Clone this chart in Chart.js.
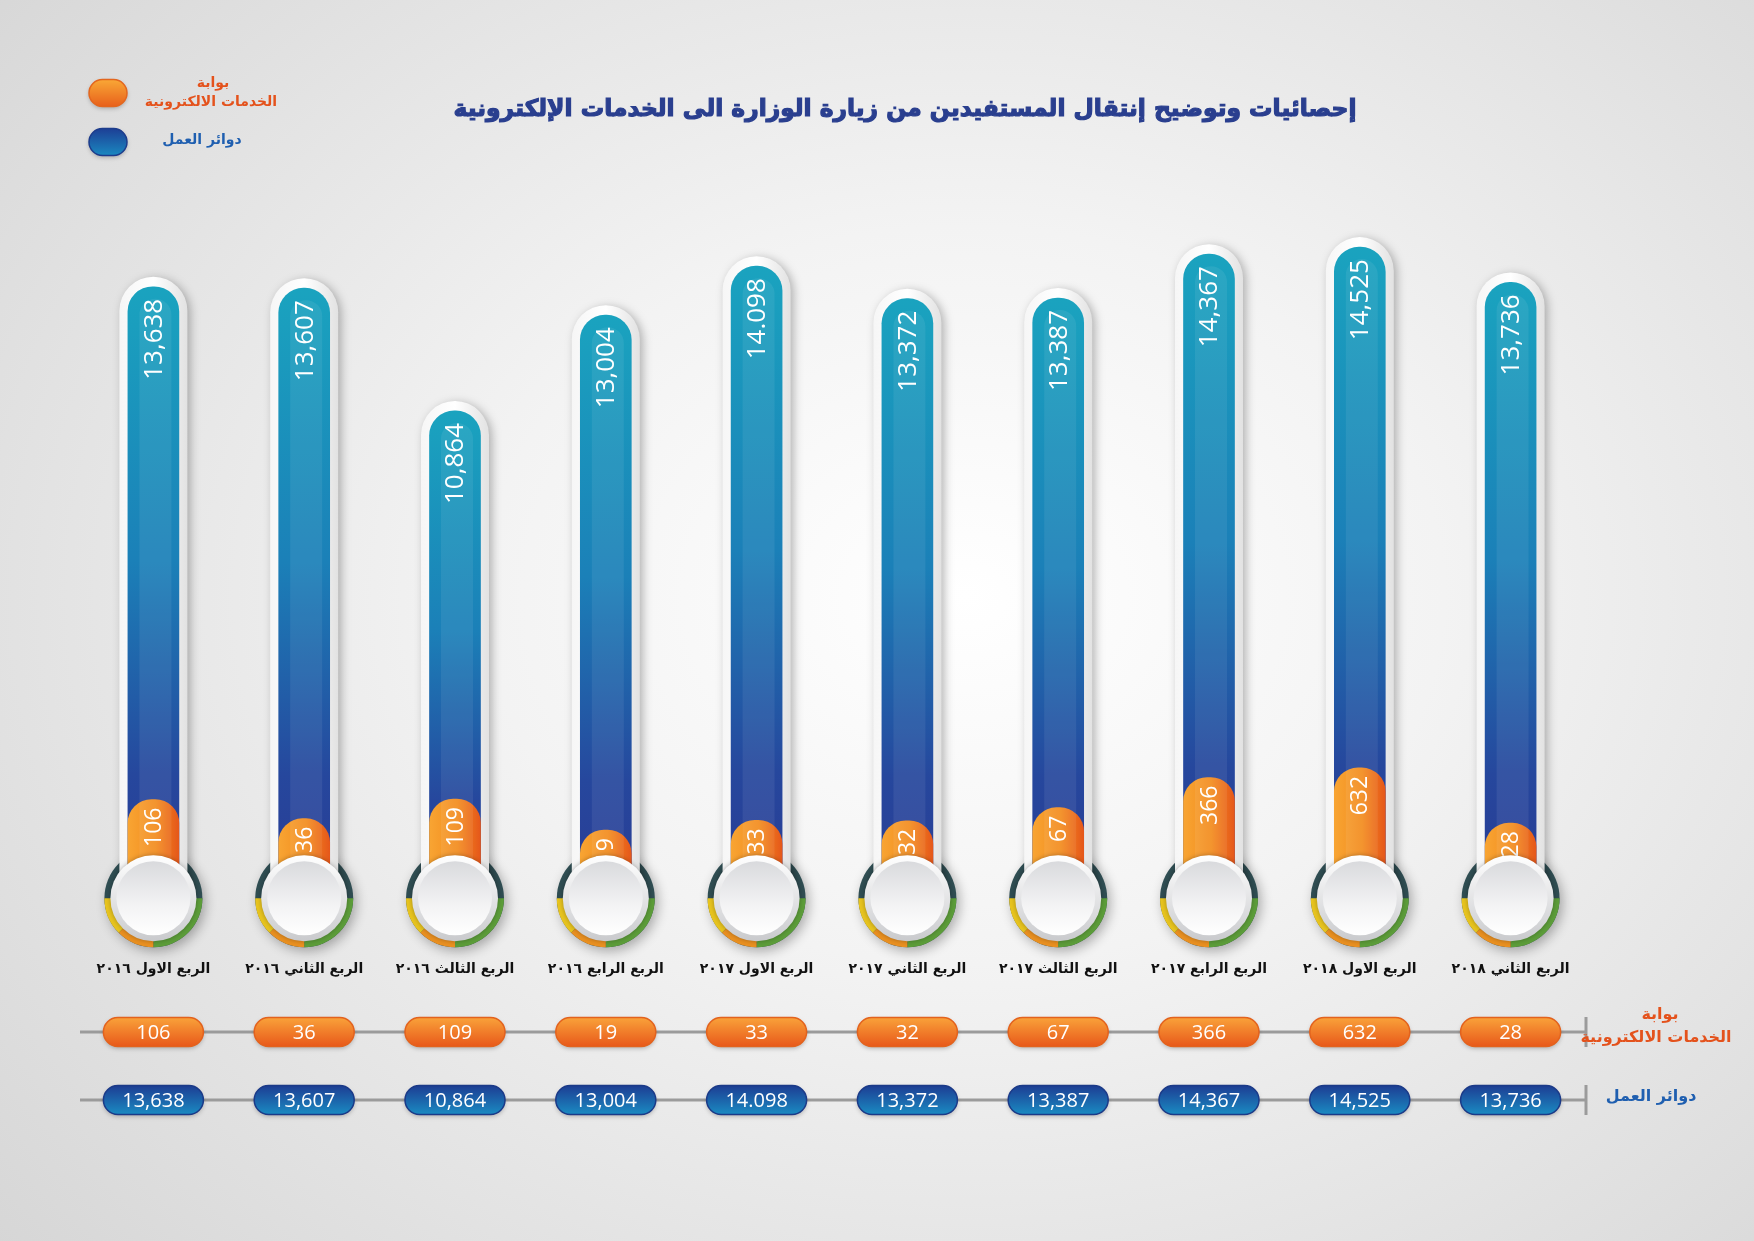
<!DOCTYPE html>
<html lang="ar">
<head>
<meta charset="utf-8">
<title>إحصائيات الخدمات الإلكترونية</title>
<script src="https://cdn.jsdelivr.net/npm/chart.js@4.4.1/dist/chart.umd.min.js"></script>
<style>
  html, body {
    margin: 0;
    padding: 0;
    width: 1754px;
    height: 1241px;
    overflow: hidden;
    background: radial-gradient(ellipse 78% 85% at 55% 48%, #ffffff 0%, #f3f3f3 35%, #d3d3d3 100%);
  }
  canvas { display: block; }
</style>
</head>
<body>
<canvas id="thermo__chart" width="1754" height="1241"></canvas>
<script>
const quarters = [
  "الربع الاول ٢٠١٦",
  "الربع الثاني ٢٠١٦",
  "الربع الثالث ٢٠١٦",
  "الربع الرابع ٢٠١٦",
  "الربع الاول ٢٠١٧",
  "الربع الثاني ٢٠١٧",
  "الربع الثالث ٢٠١٧",
  "الربع الرابع ٢٠١٧",
  "الربع الاول ٢٠١٨",
  "الربع الثاني ٢٠١٨",
];
const eServices = [106, 36, 109, 19, 33, 32, 67, 366, 632, 28];
const workOffices = [13638, 13607, 10864, 13004, 14098, 13372, 13387, 14367, 14525, 13736];
// printed labels as they appear in the original (one uses a dot)
const workText = ["13,638", "13,607", "10,864", "13,004", "14.098", "13,372", "13,387", "14,367", "14,525", "13,736"];

const titleText = "إحصائيات وتوضيح إنتقال المستفيدين من زيارة الوزارة الى الخدمات الإلكترونية";
const eServicesName = ["بوابة", "الخدمات الالكترونية"];
const workName = "دوائر العمل";

const ARABIC = "'DejaVu Sans', 'Noto Sans', sans-serif";
const NUM = "'Open Sans', 'Lato', sans-serif";
const ORANGE_TXT = "#e4521c";
const BLUE_TXT = "#1f5fb0";

function blueFill(c) {
  const chart = c.chart;
  if (!chart.chartArea || c.dataIndex === undefined) return "#1a7fb8";
  const y = chart.scales.y;
  const top = y.getPixelForValue(workOffices[c.dataIndex]);
  const base = y.getPixelForValue(0);
  const g = chart.ctx.createLinearGradient(0, top, 0, base);
  g.addColorStop(0, "#1aa3bf");
  g.addColorStop(0.45, "#1b80b8");
  g.addColorStop(0.8, "#26479d");
  g.addColorStop(1, "#2a3b94");
  return g;
}

function orangeFill(c) {
  const chart = c.chart;
  if (!chart.chartArea || c.dataIndex === undefined) return "#f39020";
  const x = chart.scales.x.getPixelForValue(c.dataIndex);
  const g = chart.ctx.createLinearGradient(x - 26, 0, x + 26, 0);
  g.addColorStop(0, "#f8a533");
  g.addColorStop(0.55, "#f38c1f");
  g.addColorStop(1, "#e5561a");
  return g;
}

function pill(ctx, x, y, w, h, top, bottom, stroke) {
  const g = ctx.createLinearGradient(0, y - h / 2, 0, y + h / 2);
  g.addColorStop(0, top);
  g.addColorStop(1, bottom);
  ctx.save();
  ctx.shadowColor = "rgba(0,0,0,0.25)";
  ctx.shadowBlur = 4;
  ctx.shadowOffsetY = 2;
  ctx.fillStyle = g;
  ctx.beginPath();
  ctx.roundRect(x - w / 2, y - h / 2, w, h, h / 2);
  ctx.fill();
  ctx.restore();
  ctx.strokeStyle = stroke;
  ctx.lineWidth = 1.5;
  ctx.beginPath();
  ctx.roundRect(x - w / 2, y - h / 2, w, h, h / 2);
  ctx.stroke();
}

// coloured ring, sits behind the glass tube
function drawRing(ctx, x, y) {
  ctx.save();
  ctx.shadowColor = "rgba(0,0,0,0.3)";
  ctx.shadowBlur = 12;
  ctx.shadowOffsetX = 3;
  ctx.shadowOffsetY = 4;
  ctx.fillStyle = "#2f4d52";
  ctx.beginPath();
  ctx.arc(x, y, 49, 0, Math.PI * 2);
  ctx.fill();
  ctx.restore();
  const segs = [
    [0, 0.5, "#5c9d39"],
    [0.5, 0.75, "#ea9020"],
    [0.75, 1, "#e8c41e"],
  ];
  segs.forEach(([a, b, col]) => {
    ctx.fillStyle = col;
    ctx.beginPath();
    ctx.moveTo(x, y);
    ctx.arc(x, y, 49, a * Math.PI, b * Math.PI);
    ctx.closePath();
    ctx.fill();
  });
}

function drawBulb(ctx, x, y) {
  const bev = ctx.createLinearGradient(0, y - 43, 0, y + 43);
  bev.addColorStop(0, "#ffffff");
  bev.addColorStop(1, "#c9cacd");
  ctx.save();
  ctx.shadowColor = "rgba(0,0,0,0.3)";
  ctx.shadowBlur = 5;
  ctx.fillStyle = bev;
  ctx.beginPath();
  ctx.arc(x, y, 43, 0, Math.PI * 2);
  ctx.fill();
  ctx.restore();
  const inner = ctx.createLinearGradient(0, y - 37, 0, y + 37);
  inner.addColorStop(0, "#d9dadd");
  inner.addColorStop(0.6, "#f3f3f4");
  inner.addColorStop(1, "#ffffff");
  ctx.fillStyle = inner;
  ctx.beginPath();
  ctx.arc(x, y, 37, 0, Math.PI * 2);
  ctx.fill();
}

const thermoPlugin = {
  id: "thermo",
  beforeDatasetsDraw(chart) {
    const ctx = chart.ctx;
    const base = chart.scales.y.getPixelForValue(0);
    const bars = chart.getDatasetMeta(1).data;
    bars.forEach((bar) => drawRing(ctx, bar.x, base + 1));
    bars.forEach((bar) => {
      const w = 68;
      const top = bar.y - 10;
      const g = ctx.createLinearGradient(bar.x - w / 2, 0, bar.x + w / 2, 0);
      g.addColorStop(0, "#f6f6f6");
      g.addColorStop(0.5, "#ffffff");
      g.addColorStop(1, "#e2e2e2");
      ctx.save();
      ctx.shadowColor = "rgba(0,0,0,0.28)";
      ctx.shadowBlur = 10;
      ctx.shadowOffsetX = 3;
      ctx.shadowOffsetY = 2;
      ctx.fillStyle = g;
      ctx.beginPath();
      ctx.roundRect(bar.x - w / 2, top, w, base - top, [w / 2, w / 2, 0, 0]);
      ctx.fill();
      ctx.restore();
    });
  },
  afterDatasetsDraw(chart) {
    const ctx = chart.ctx;
    const base = chart.scales.y.getPixelForValue(0);
    // soft highlight stripe in the blue tubes
    chart.getDatasetMeta(1).data.forEach((bar) => {
      ctx.fillStyle = "rgba(255,255,255,0.07)";
      ctx.beginPath();
      ctx.roundRect(bar.x - 14, bar.y + 12, 32, base - bar.y - 12, [16, 16, 0, 0]);
      ctx.fill();
    });
    ctx.fillStyle = "#ffffff";
    ctx.textBaseline = "middle";
    ctx.textAlign = "right";
    chart.getDatasetMeta(1).data.forEach((bar, i) => {
      ctx.save();
      ctx.translate(bar.x + 1, bar.y + 12);
      ctx.rotate(-Math.PI / 2);
      ctx.font = `26px ${NUM}`;
      ctx.fillText(workText[i], 0, 0);
      ctx.restore();
    });
    chart.getDatasetMeta(0).data.forEach((bar, i) => {
      ctx.save();
      ctx.translate(bar.x + 1, bar.y + 8);
      ctx.rotate(-Math.PI / 2);
      ctx.font = `23px ${NUM}`;
      ctx.fillText(String(eServices[i]), 0, 0);
      ctx.restore();
    });
    chart.getDatasetMeta(1).data.forEach((bar) => drawBulb(ctx, bar.x, base + 1));
  },
  afterDraw(chart) {
    const ctx = chart.ctx;
    const x = chart.scales.x;

    // title
    ctx.save();
    ctx.font = `bold 30px ${ARABIC}`;
    const tw = ctx.measureText(titleText).width;
    const size = Math.min(34, (30 * 905) / tw);
    ctx.font = `bold ${size.toFixed(1)}px ${ARABIC}`;
    ctx.fillStyle = "#2a3f8f";
    ctx.strokeStyle = "#2a3f8f";
    ctx.lineWidth = 1.2;
    ctx.textAlign = "center";
    ctx.textBaseline = "middle";
    ctx.fillText(titleText, 905, 110);
    ctx.strokeText(titleText, 905, 110);
    ctx.restore();

    // legend
    pill(ctx, 108, 93, 38, 27, "#f9a836", "#e8601b", "#e3661e");
    pill(ctx, 108, 142, 38, 27, "#1d3f95", "#1a88c0", "#1c3c8c");
    ctx.textAlign = "center";
    ctx.textBaseline = "middle";
    ctx.font = `bold 14px ${ARABIC}`;
    ctx.fillStyle = ORANGE_TXT;
    ctx.fillText(eServicesName[0], 213, 83);
    ctx.fillText(eServicesName[1], 211, 102);
    ctx.fillStyle = BLUE_TXT;
    ctx.fillText(workName, 202, 140);

    // value table rows
    const rows = [
      { y: 1032, vals: eServices.map(String), top: "#f9a23a", bottom: "#e8581a", stroke: "#e3621d" },
      { y: 1100, vals: workText, top: "#1d3d93", bottom: "#1a8bc2", stroke: "#1b3a88" },
    ];
    rows.forEach((r) => {
      ctx.strokeStyle = "#9b9b9b";
      ctx.lineWidth = 3;
      ctx.beginPath();
      ctx.moveTo(80, r.y);
      ctx.lineTo(1586, r.y);
      ctx.moveTo(1586, r.y - 15);
      ctx.lineTo(1586, r.y + 15);
      ctx.stroke();
      r.vals.forEach((v, i) => {
        const cx = x.getPixelForValue(i);
        pill(ctx, cx, r.y, 100, 29, r.top, r.bottom, r.stroke);
        ctx.fillStyle = "#ffffff";
        ctx.font = `20px ${NUM}`;
        ctx.textAlign = "center";
        ctx.textBaseline = "middle";
        ctx.fillText(v, cx, r.y + 1);
      });
    });
    ctx.font = `bold 16px ${ARABIC}`;
    ctx.textAlign = "center";
    ctx.fillStyle = ORANGE_TXT;
    ctx.fillText(eServicesName[0], 1660, 1015);
    ctx.fillText(eServicesName[1], 1656, 1038);
    ctx.fillStyle = BLUE_TXT;
    ctx.fillText(workName, 1651, 1097);
  },
};

new Chart(document.querySelector("#thermo__chart"), {
  type: "bar",
  data: {
    labels: quarters,
    datasets: [
      {
        label: eServicesName.join(" "),
        data: eServices,
        yAxisID: "y2",
        order: 0,
        grouped: false,
        barThickness: 51,
        borderRadius: { topLeft: 24, topRight: 24, bottomLeft: 0, bottomRight: 0 },
        borderSkipped: "start",
        backgroundColor: orangeFill,
      },
      {
        label: workName,
        data: workOffices,
        yAxisID: "y",
        order: 1,
        grouped: false,
        barThickness: 51,
        borderRadius: { topLeft: 25, topRight: 25, bottomLeft: 0, bottomRight: 0 },
        borderSkipped: "start",
        backgroundColor: blueFill,
      },
    ],
  },
  options: {
    responsive: false,
    animation: false,
    layout: { padding: { top: 190, left: 78, right: 168, bottom: 199 } },
    plugins: {
      legend: { display: false },
      title: { display: false },
      tooltip: { enabled: false },
    },
    scales: {
      x: {
        grid: { display: false, drawTicks: false },
        border: { display: false },
        ticks: {
          color: "#111111",
          font: { family: ARABIC, weight: "bold", size: 14 },
          padding: 64,
          maxRotation: 0,
          autoSkip: false,
        },
      },
      y: { display: false, min: 0, max: 15800 },
      y2: { type: "logarithmic", display: false, min: 0.43, max: 9e16 },
    },
  },
  plugins: [thermoPlugin],
});
</script>
</body>
</html>
